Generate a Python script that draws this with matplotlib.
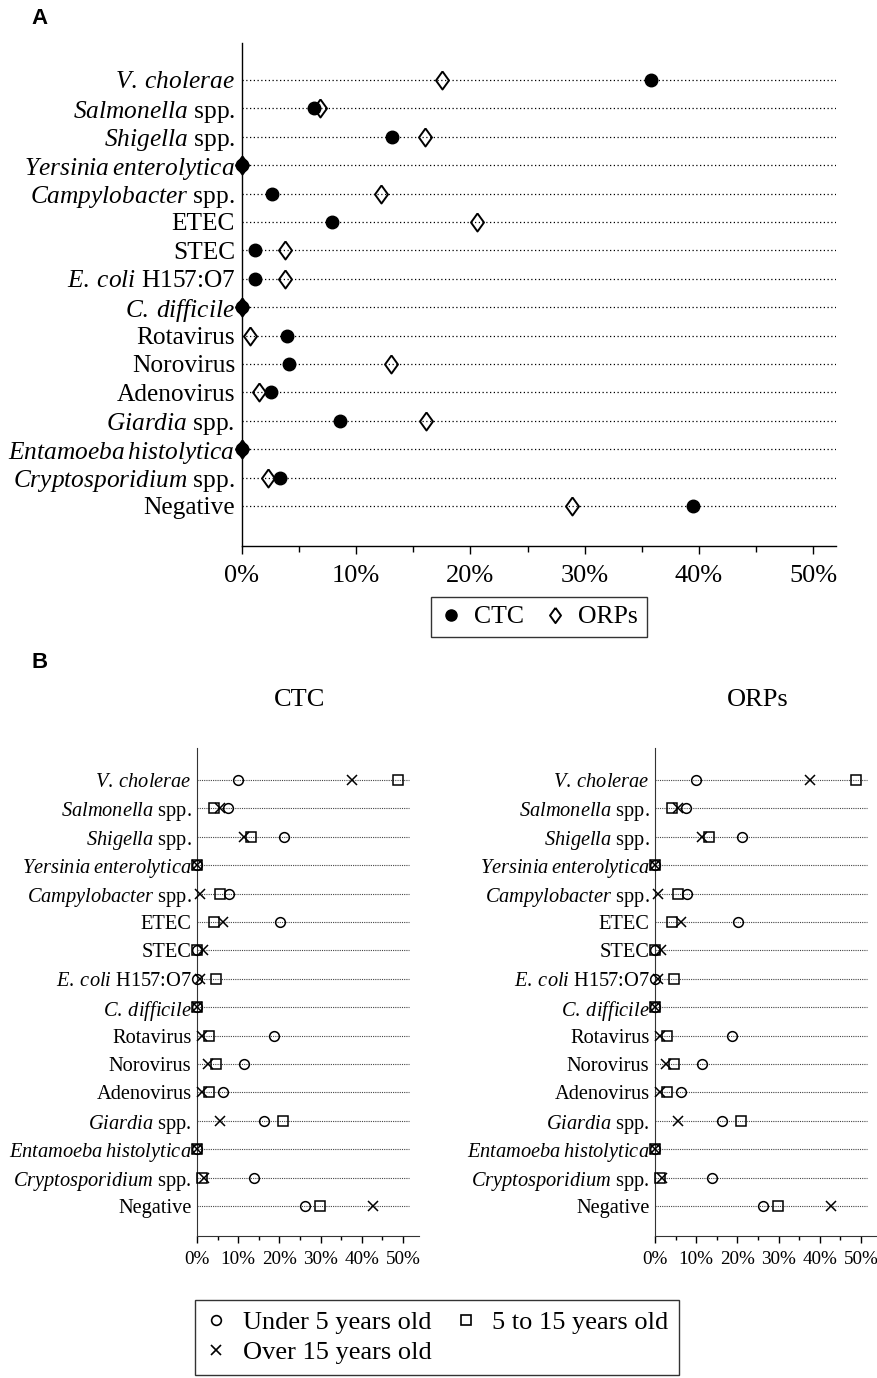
import matplotlib
matplotlib.use("Agg")
import matplotlib.pyplot as plt
from matplotlib.lines import Line2D
import numpy as np

plt.rcParams['font.family'] = ['Liberation Serif', 'DejaVu Serif']
plt.rcParams['mathtext.fontset'] = 'custom'
plt.rcParams['mathtext.rm'] = 'Liberation Serif'
plt.rcParams['mathtext.it'] = 'Liberation Serif:italic'
plt.rcParams['mathtext.bf'] = 'Liberation Serif:bold'

# ---------------- data ----------------
categories = [
    r"$\mathit{V.\:cholerae}$",
    r"$\mathit{Salmonella}$ spp.",
    r"$\mathit{Shigella}$ spp.",
    r"$\mathit{Yersinia\:enterolytica}$",
    r"$\mathit{Campylobacter}$ spp.",
    "ETEC",
    "STEC",
    r"$\mathit{E.\:coli}$ H157:O7",
    r"$\mathit{C.\:difficile}$",
    "Rotavirus",
    "Norovirus",
    "Adenovirus",
    r"$\mathit{Giardia}$ spp.",
    r"$\mathit{Entamoeba\:histolytica}$",
    r"$\mathit{Cryptosporidium}$ spp.",
    "Negative",
]

# Panel A (% positive)
ctc_A = [35.8, 6.3, 13.1, 0, 2.6, 7.9, 1.1, 1.1, 0, 3.9, 4.1, 2.5, 8.6, 0, 3.3, 39.5]
orps_A = [17.5, 6.8, 16.0, 0, 12.2, 20.6, 3.8, 3.8, 0, 0.7, 13.0, 1.5, 16.1, 0, 2.3, 28.9]

# Panel B - CTC by age group
ctc_under5 = [10.0, 7.5, 21.2, 0, 7.7, 20.2, 0, 0, 0, 18.8, 11.3, 6.3, 16.3, 0, 13.9, 26.3]
ctc_5to15 = [48.8, 4.2, 13.2, 0, 5.5, 4.2, 0, 4.7, 0, 3.0, 4.5, 3.0, 20.8, 0, 1.2, 29.8]
ctc_over15 = [37.5, 5.5, 11.4, 0, 0.8, 6.4, 1.5, 0.8, 0, 1.2, 2.6, 1.3, 5.5, 0, 1.6, 42.6]

# Panel B - ORPs by age group
orps_under5 = [10.0, 7.5, 21.2, 0, 7.7, 20.2, 0, 0, 0, 18.8, 11.3, 6.3, 16.3, 0, 13.9, 26.3]
orps_5to15 = [48.8, 4.2, 13.2, 0, 5.5, 4.2, 0, 4.7, 0, 3.0, 4.5, 3.0, 20.8, 0, 1.2, 29.8]
orps_over15 = [37.5, 5.5, 11.4, 0, 0.8, 6.4, 1.5, 0.8, 0, 1.2, 2.6, 1.3, 5.5, 0, 1.6, 42.6]

tick_vals = [0, 10, 20, 30, 40, 50]
tick_labels = ["0%", "10%", "20%", "30%", "40%", "50%"]
minor_vals = [5, 15, 25, 35, 45]

W, H = 877, 1378
fig = plt.figure(figsize=(W / 100, H / 100), dpi=100)

def frac_rect(x0, y0, x1, y1):
    return [x0 / W, 1 - y1 / H, (x1 - x0) / W, (y1 - y0) / H]

diamond = [(0, 1), (0.72, 0), (0, -1), (-0.72, 0), (0, 1)]

# ---------------- Panel A ----------------
axA = fig.add_axes(frac_rect(242, 43, 836, 546))
n = len(categories)
ypos = np.arange(n)
for y in ypos:
    axA.plot([0, 52], [y, y], color='black', lw=0.9, ls=(0, (1, 2)), zorder=1)
axA.plot(ctc_A, ypos, ls='none', marker='o', ms=9, mfc='black', mec='black',
         clip_on=False, zorder=3, label='CTC')
axA.plot(orps_A, ypos, ls='none', marker=diamond, ms=13, mfc='none', mec='black',
         mew=1.4, clip_on=False, zorder=4, label='ORPs')
axA.set_xlim(0, 52)
axA.set_ylim(16.41, -1.30)
axA.set_yticks(ypos)
axA.set_yticklabels(categories, fontsize=18.3)
axA.tick_params(axis='y', length=0, pad=5)
axA.set_xticks(tick_vals)
axA.set_xticklabels(tick_labels, fontsize=19)
axA.set_xticks(minor_vals, minor=True)
axA.tick_params(axis='x', which='major', length=6, width=1, direction='out', pad=8)
axA.tick_params(axis='x', which='minor', length=4, width=1, direction='out')
for s in ['top', 'right']:
    axA.spines[s].set_visible(False)
axA.spines['left'].set_linewidth(1.0)
axA.spines['bottom'].set_linewidth(1.0)

legA = fig.legend(
    handles=[Line2D([], [], ls='none', marker='o', ms=8, mfc='black', mec='black'),
             Line2D([], [], ls='none', marker=diamond, ms=11, mfc='none', mec='black', mew=1.4)],
    labels=['CTC', 'ORPs'], loc='center', bbox_to_anchor=(539 / W, 1 - 617 / H),
    ncol=2, fontsize=18.5, frameon=True, fancybox=False, edgecolor='black',
    handlelength=0.8, handletextpad=0.5, columnspacing=0.8, borderpad=0.35,
    borderaxespad=0)
legA.get_frame().set_linewidth(1.0)

fig.text(40 / W, 1 - 18 / H, "A", family='Liberation Sans', weight='bold', fontsize=16,
         ha='center', va='center')
fig.text(40 / W, 1 - 663 / H, "B", family='Liberation Sans', weight='bold', fontsize=16,
         ha='center', va='center')

# ---------------- Panel B ----------------
def panel_b(x0, under5, a515, over15, title, title_x):
    ax = fig.add_axes(frac_rect(x0, 748, x0 + 54 * 4.12, 1236))
    for y in ypos:
        ax.plot([0, 51.5], [y, y], color='#444444', lw=0.8, ls=(0, (1, 1)), zorder=1)
    ax.plot(under5, ypos, ls='none', marker='o', ms=7, mfc='none', mec='black', mew=1.1,
            clip_on=False, zorder=3)
    ax.plot(a515, ypos, ls='none', marker='s', ms=7, mfc='none', mec='black', mew=1.1,
            clip_on=False, zorder=3)
    ax.plot(over15, ypos, ls='none', marker='x', ms=7, mec='black', mew=1.1,
            clip_on=False, zorder=3)
    ax.set_xlim(0, 54)
    ax.set_ylim(16.06, -1.13)
    ax.set_yticks(ypos)
    ax.set_yticklabels(categories, fontsize=14.7)
    ax.tick_params(axis='y', length=0, pad=4)
    ax.set_xticks(tick_vals)
    ax.set_xticklabels(tick_labels, fontsize=13.8)
    ax.set_xticks(minor_vals, minor=True)
    ax.tick_params(axis='x', which='major', length=5, width=1, direction='out', pad=6)
    ax.tick_params(axis='x', which='minor', length=3, width=1, direction='out')
    for s in ['top', 'right']:
        ax.spines[s].set_visible(False)
    ax.spines['left'].set_color('#333333')
    ax.spines['bottom'].set_color('#333333')
    fig.text(title_x / W, 1 - 700 / H, title, fontsize=19, ha='center', va='center')
    return ax

panel_b(197, ctc_under5, ctc_5to15, ctc_over15, "CTC", 300)
panel_b(655, orps_under5, orps_5to15, orps_over15, "ORPs", 758)

legB = fig.legend(
    handles=[Line2D([], [], ls='none', marker='o', ms=7, mfc='none', mec='black', mew=1.2),
             Line2D([], [], ls='none', marker='x', ms=7, mec='black', mew=1.2),
             Line2D([], [], ls='none', marker='s', ms=7, mfc='none', mec='black', mew=1.2)],
    labels=['Under 5 years old', 'Over 15 years old', '5 to 15 years old'],
    loc='upper center', bbox_to_anchor=(437 / W, 1 - 1300 / H),
    ncol=2, fontsize=19, frameon=True, fancybox=False, edgecolor='black',
    handlelength=0.8, handletextpad=0.6, columnspacing=0.9, borderpad=0.4,
    labelspacing=0.25, borderaxespad=0)
legB.get_frame().set_linewidth(1.0)

fig.savefig("out.png", dpi=100)
